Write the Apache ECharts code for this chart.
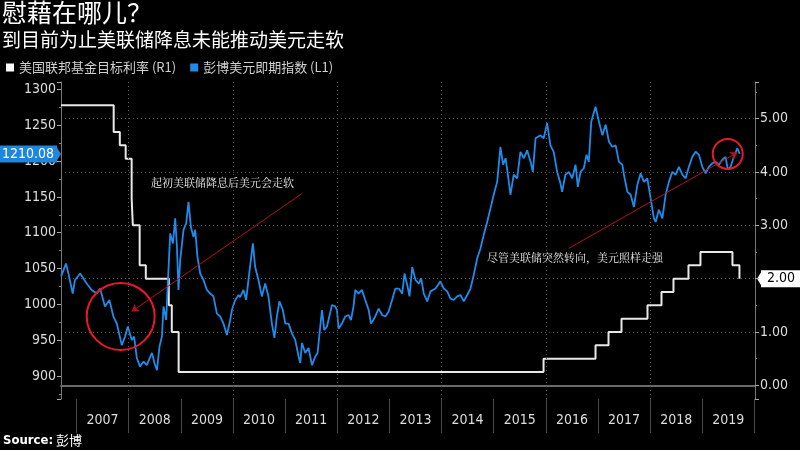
<!DOCTYPE html>
<html><head><meta charset="utf-8">
<script src="https://cdn.jsdelivr.net/npm/echarts@6/dist/echarts.min.js"></script>
<style>html,body{margin:0;padding:0;background:#000;}#c{width:800px;height:450px;}</style>
</head><body><div id="c"></div>
<script>
// ---------------- DATA ----------------
const dollarDates = [
'2006-09-15','2006-10-19','2006-11-05','2006-12-05','2006-12-21','2007-01-26','2007-03-13','2007-04-17','2007-05-22','2007-06-15',
'2007-07-19','2007-08-19','2007-09-16','2007-10-10','2007-11-14','2007-12-07','2007-12-26','2008-01-23','2008-02-08','2008-02-27',
'2008-03-21','2008-04-14','2008-05-07','2008-06-12','2008-06-30','2008-07-17','2008-08-04','2008-08-21','2008-09-01','2008-09-20',
'2008-09-29','2008-10-18','2008-11-06','2008-11-22','2008-12-04','2008-12-15','2008-12-27','2009-01-19','2009-02-07','2009-02-23',
'2009-03-12','2009-03-30','2009-04-11','2009-04-27','2009-05-16','2009-06-08','2009-07-02','2009-07-25','2009-08-17','2009-09-10',
'2009-10-03','2009-10-26','2009-11-19','2009-12-12','2009-12-24','2010-01-16','2010-02-09','2010-02-20','2010-03-15','2010-04-03',
'2010-04-19','2010-05-06','2010-05-20','2010-06-05','2010-06-28','2010-07-22','2010-08-14','2010-09-06','2010-09-30','2010-10-18',
'2010-11-04','2010-11-22','2010-12-16','2011-01-02','2011-01-25','2011-02-18','2011-03-13','2011-04-05','2011-04-17','2011-04-29',
'2011-05-22','2011-06-14','2011-07-08','2011-07-31','2011-08-16','2011-09-04','2011-09-16','2011-10-02','2011-10-21','2011-11-06',
'2011-11-25','2011-12-18','2011-12-30','2012-01-10','2012-02-03','2012-02-26','2012-03-20','2012-04-06','2012-04-24','2012-05-06',
'2012-05-29','2012-06-22','2012-07-15','2012-08-08','2012-08-24','2012-09-16','2012-10-17','2012-11-10','2012-12-03','2012-12-26',
'2013-01-19','2013-02-11','2013-03-07','2013-03-31','2013-04-16','2013-05-05','2013-05-21','2013-06-09','2013-07-02','2013-07-25',
'2013-08-11','2013-08-29','2013-09-22','2013-10-15','2013-11-19','2013-12-24','2014-01-16','2014-02-09','2014-03-04','2014-03-27',
'2014-04-20','2014-05-13','2014-06-05','2014-06-29','2014-07-22','2014-08-14','2014-09-07','2014-09-30','2014-10-23','2014-11-16',
'2014-12-09','2015-01-01','2015-01-25','2015-02-17','2015-03-07','2015-03-25','2015-04-10','2015-04-28','2015-05-21','2015-06-14',
'2015-07-07','2015-07-31','2015-08-23','2015-09-16','2015-10-02','2015-10-21','2015-11-24','2015-12-17','2016-01-10','2016-02-02',
'2016-02-25','2016-03-20','2016-04-12','2016-04-24','2016-05-17','2016-06-10','2016-07-04','2016-07-27','2016-08-12','2016-08-31',
'2016-09-23','2016-10-12','2016-10-28','2016-11-14','2016-12-14','2017-01-07','2017-01-31','2017-02-23','2017-03-18','2017-04-10',
'2017-05-04','2017-05-27','2017-06-20','2017-07-01','2017-07-25','2017-08-17','2017-09-09','2017-10-03','2017-10-26','2017-11-18',
'2017-12-12','2018-01-04','2018-01-27','2018-02-08','2018-03-03','2018-03-27','2018-04-19','2018-05-12','2018-06-05','2018-06-28',
'2018-07-21','2018-08-14','2018-09-06','2018-09-29','2018-10-23','2018-11-15','2018-12-08','2019-01-01','2019-01-24','2019-02-16',
'2019-03-12','2019-04-04','2019-04-27','2019-05-21','2019-06-13','2019-06-29','2019-07-18','2019-08-10','2019-09-03','2019-09-20'
];
const dollarValues = [
1039,1057,1043,1015,1034,1043,1029,1020,1015,1022,
997,1006,983,973,943,955,969,950,955,925,
913,920,915,932,918,908,941,955,997,978,
1020,1099,1085,1120,1080,1020,1062,1104,1113,1143,
1108,1094,1104,1066,1043,1034,1020,1015,1011,987,
983,973,957,978,992,1006,1013,1010,1020,1006,
1034,1062,1085,1052,1034,1011,1029,1011,973,953,
983,1004,992,973,973,959,950,927,918,946,
932,939,915,927,932,969,992,964,969,983,
999,997,992,966,973,983,985,978,997,1020,
1015,1020,1006,992,973,980,994,985,983,990,
1006,1022,1022,1015,1043,1027,1011,1052,1034,1029,
1036,1015,1004,1018,1022,1032,1022,1018,1008,1006,
1011,1013,1004,1013,1022,1041,1064,1078,1097,1115,
1134,1153,1171,1220,1195,1204,1181,1153,1181,1176,
1213,1204,1215,1199,1185,1232,1236,1232,1253,1222,
1213,1185,1169,1157,1181,1185,1176,1195,1164,1185,
1190,1209,1199,1255,1276,1255,1236,1251,1227,1220,
1222,1199,1195,1181,1157,1153,1136,1167,1183,1171,
1176,1148,1120,1115,1132,1120,1153,1171,1185,1181,
1192,1181,1176,1192,1206,1213,1209,1192,1183,1192,
1197,1199,1195,1202,1206,1188,1192,1206,1218,1210.08
];
// Fed funds target (upper bound), step changes
const rateDates = [
'2006-09-14','2007-09-18','2007-10-31','2007-12-11','2008-01-22','2008-01-30','2008-03-18','2008-04-30','2008-10-08','2008-10-29',
'2008-12-16','2015-12-16','2016-12-14','2017-03-15','2017-06-14','2017-12-13','2018-03-21','2018-06-13','2018-09-26','2018-12-19',
'2019-07-31','2019-09-18','2019-09-20'
];
const rateValues = [
5.25,4.75,4.50,4.25,3.50,3.00,2.25,2.00,1.50,1.00,
0.25,0.50,0.75,1.00,1.25,1.50,1.75,2.00,2.25,2.50,
2.25,2.00,2.00
];
const yearLabels = [2007,2008,2009,2010,2011,2012,2013,2014,2015,2016,2017,2018,2019];
const yearBoundaries = [2007,2008,2009,2010,2011,2012,2013,2014,2015,2016,2017,2018,2019,2020];
const gridYears = [2008,2010,2012,2014,2016,2018];
const seriesNames = ['美国联邦基金目标利率 (R1)','彭博美元即期指数 (L1)'];
const titleText = '慰藉在哪儿？';
const subtitleText = '到目前为止美联储降息未能推动美元走软';
const sourceText = '彭博';
const note1 = '起初美联储降息后美元会走软';
const note2 = '尽管美联储突然转向，美元照样走强';
// annotation anchors in data space
const arrow1 = [['2011-05-01',1155],['2008-01-22',990]];
const arrow2 = [['2016-06-09',1078],['2019-09-03',1212]];
const circle1 = ['2007-11-06',983];
const circle2 = ['2019-06-28',1210];

// ---------------- CHART ----------------
const NUMF = "'Liberation Sans Narrow','DejaVu Sans Condensed','Roboto Condensed','Roboto',sans-serif";
const CJK = "'Noto Sans CJK SC','Noto Sans',sans-serif";
const BLUE = '#1f8ceb';
const TAGBLUE = '#1f86dd';
const RED = '#e8192c';
const GRIDC = '#555';
const chart = echarts.init(document.getElementById('c'), null, {renderer:'canvas'});
const lastDollar = dollarValues[dollarValues.length-1];
const lastRate = rateValues[rateValues.length-1];
const ts = (y,m,d) => new Date(y,m,d).getTime();
const X_MIN = ts(2006,8,14), X_MAX = ts(2020,0,5);

const option = {
  backgroundColor:'#000',
  animation:false,
  textStyle:{fontFamily:CJK},
  title:[
    {text:titleText, left:2, top:0, padding:0, textStyle:{color:'#fff', fontSize:25, fontWeight:'normal', fontFamily:CJK}},
    {text:subtitleText, left:2, top:30, padding:0, textStyle:{color:'#fff', fontSize:19, fontWeight:'normal', fontFamily:CJK}},
    {text:'{b|Source:} '+sourceText, left:3, top:434, padding:0, textStyle:{color:'#fff', fontSize:13, fontWeight:'normal', fontFamily:CJK,
      rich:{b:{fontWeight:'bold', fontSize:13, color:'#fff', fontFamily:"'Liberation Sans Narrow','DejaVu Sans Condensed',sans-serif"}}}}
  ],
  legend:{left:6, top:61, padding:0, itemWidth:8, itemHeight:8, itemGap:14, icon:'rect',
    textStyle:{color:'#d0d0d0', fontSize:13, fontFamily:CJK}, data:seriesNames},
  grid:{left:61, right:45, top:82, bottom:51, containLabel:false},
  xAxis:[
    {type:'time', min:X_MIN, max:X_MAX,
      axisLine:{show:true, lineStyle:{color:'#6a6a6a', width:2}},
      axisTick:{show:false}, axisLabel:{show:false}, splitLine:{show:false}},
    {type:'value', position:'bottom', min:X_MIN, max:X_MAX,
      axisLine:{show:false}, splitLine:{show:false},
      axisTick:{show:true, length:34, lineStyle:{color:'#4a4a4a', width:1},
        customValues:yearBoundaries.map(y=>ts(y,0,1))},
      axisLabel:{margin:14, color:'#ddd', fontSize:14, fontFamily:NUMF,
        customValues:yearLabels.map(y=>ts(y,6,2)),
        formatter:function(v){ return String(new Date(v).getFullYear()); }}}
  ],
  yAxis:[
    {type:'value', position:'left', min:867.7, max:1310.5, splitNumber:9,
      axisLine:{show:true, lineStyle:{color:'#777'}},
      axisTick:{show:true, length:4, lineStyle:{color:'#aaa'}},
      minorTick:{show:true, splitNumber:2, length:2, lineStyle:{color:'#888'}},
      axisLabel:{color:'#ddd', fontSize:14, fontFamily:NUMF, margin:5, showMinLabel:false, showMaxLabel:false,
        formatter:function(v){return String(v);}},
      splitLine:{show:false}},
    {type:'value', position:'right', min:-0.257, max:5.688, splitNumber:6,
      axisLine:{show:true, lineStyle:{color:'#777'}},
      axisTick:{show:true, length:4, lineStyle:{color:'#aaa'}},
      minorTick:{show:true, splitNumber:2, length:2, lineStyle:{color:'#888'}},
      axisLabel:{color:'#ddd', fontSize:14, fontFamily:NUMF, margin:5, showMinLabel:false, showMaxLabel:false,
        formatter:function(v){return v.toFixed(2);}},
      splitLine:{show:true, showMinLine:false, showMaxLine:false, lineStyle:{color:GRIDC, type:[1,3], width:1}}}
  ],
  series:[
    {name:seriesNames[0], type:'line', xAxisIndex:0, yAxisIndex:1, step:'end', showSymbol:false, symbol:'none',
      data:rateDates.map((d,i)=>[d, rateValues[i]]),
      lineStyle:{color:'#e8e8e8', width:2}, itemStyle:{color:'#ffffff'},
      markLine:{silent:true, symbol:'none', animation:false, data:[
        {yAxis:lastRate, lineStyle:{color:'rgba(0,0,0,0)', width:0},
          label:{show:true, position:'end', distance:6, formatter:lastRate.toFixed(2), backgroundColor:'#fff', color:'#000',
            padding:[2,5,1,6], fontSize:14, fontFamily:NUMF}},
        ...gridYears.map(y=>({xAxis:ts(y,0,1), lineStyle:{color:GRIDC, type:[1,3], width:1}, label:{show:false}}))
      ]}
    },
    {name:seriesNames[1], type:'line', xAxisIndex:0, yAxisIndex:0, showSymbol:false, symbol:'none',
      data:dollarDates.map((d,i)=>[d, dollarValues[i]]),
      lineStyle:{color:BLUE, width:1.8}, itemStyle:{color:BLUE},
      markLine:{silent:true, symbol:'none', symbolSize:7, animation:false,
        lineStyle:{color:'#b5121b', width:1, type:'solid'}, label:{show:false},
        data:[
          {yAxis:lastDollar, lineStyle:{color:'rgba(0,0,0,0)', width:0},
            label:{show:true, position:'start', distance:4, formatter:lastDollar.toFixed(2), backgroundColor:TAGBLUE, color:'#fff',
              padding:[2,3,1,3], fontSize:14, fontFamily:NUMF}},
          [{coord:arrow1[0], symbol:'none'},{coord:arrow1[1], symbol:'arrow'}],
          [{coord:arrow2[0], symbol:'none'},{coord:arrow2[1], symbol:'arrow'}]
        ]},
      markPoint:{silent:true, symbol:'circle', animation:false, label:{show:false},
        itemStyle:{color:'rgba(0,0,0,0)', borderColor:RED, borderWidth:2},
        data:[{coord:circle1, symbolSize:[68,67]},{coord:circle2, symbolSize:30}]}
    }
  ],
  graphic:[
    {type:'text', left:151, top:177, style:{text:note1, fill:'#eee', fontSize:11, fontFamily:"'Noto Serif CJK SC','Noto Sans CJK SC',serif"}},
    {type:'text', left:487, top:252, style:{text:note2, fill:'#eee', fontSize:11, fontFamily:"'Noto Serif CJK SC','Noto Sans CJK SC',serif"}}
  ]
};
chart.setOption(option);

// small pointer triangles on the last-value tags, positioned via the axes
const yL = chart.convertToPixel({yAxisIndex:0}, lastDollar);
const yR = chart.convertToPixel({yAxisIndex:1}, lastRate);
chart.setOption({graphic:[
  {type:'text', left:151, top:177, style:{text:note1, fill:'#eee', fontSize:11, fontFamily:"'Noto Serif CJK SC','Noto Sans CJK SC',serif"}},
  {type:'text', left:487, top:252, style:{text:note2, fill:'#eee', fontSize:11, fontFamily:"'Noto Serif CJK SC','Noto Sans CJK SC',serif"}},
  {type:'polygon', shape:{points:[[56,yL-8],[61,yL],[56,yL+8]]}, style:{fill:TAGBLUE}},
  {type:'polygon', shape:{points:[[762,yR-8],[757,yR],[762,yR+8]]}, style:{fill:'#fff'}}
]}, {replaceMerge:['graphic']});
</script></body></html>
